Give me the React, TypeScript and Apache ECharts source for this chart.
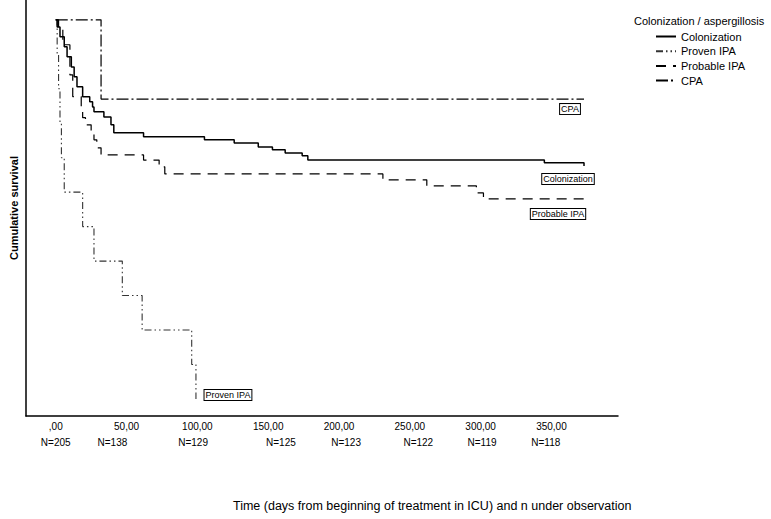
import React, { useEffect, useRef } from "react";
import * as echarts from "echarts";

const seriesNames = ["Colonization", "Proven IPA", "Probable IPA", "CPA"];

const colonizationDays = [0, 1, 3, 6, 8, 11, 13, 15, 19, 24, 26, 27, 34, 39, 41, 62, 105, 126, 143, 153, 162, 174, 178, 345, 373];
const colonizationSurv = [1, 0.982, 0.957, 0.932, 0.907, 0.881, 0.856, 0.831, 0.806, 0.793, 0.78, 0.768, 0.755, 0.735, 0.715, 0.705, 0.697, 0.689, 0.679, 0.672, 0.664, 0.657, 0.646, 0.639, 0.631];

const provenDays = [0, 1, 2, 3, 4, 6, 19, 27, 47, 61, 96, 99];
const provenSurv = [1, 0.913, 0.826, 0.739, 0.652, 0.565, 0.478, 0.391, 0.304, 0.217, 0.13, 0.043];

const probableDays = [0, 2, 5, 10, 12, 18, 19, 21, 25, 27, 29, 32, 62, 73, 77, 231, 262, 297, 302, 373];
const probableSurv = [1, 0.975, 0.937, 0.861, 0.806, 0.78, 0.753, 0.735, 0.717, 0.697, 0.677, 0.659, 0.646, 0.629, 0.611, 0.596, 0.581, 0.563, 0.548, 0.548];

const cpaDays = [0, 32, 373];
const cpaSurv = [1, 0.8, 0.8];

const xTickValues = [0, 50, 100, 150, 200, 250, 300, 350];
const xTickLabels = [",00", "50,00", "100,00", "150,00", "200,00", "250,00", "300,00", "350,00"];

const nDays = [0, 40, 97, 159, 205, 256, 301, 346];
const nLabels = ["N=205", "N=138", "N=129", "N=125", "N=123", "N=122", "N=119", "N=118"];

const FONT = "'Liberation Sans', Arial, sans-serif";

function pairs(d: number[], s: number[]) {
  return d.map((v, i) => [v, s[i]]);
}

export default function App() {
  const ref = useRef<HTMLDivElement>(null);
  useEffect(() => {
    if (!ref.current) return;
    const chart = echarts.init(ref.current, undefined, { renderer: "svg" });
    const boxLabel = (offset: number[]) => ({
      show: true,
      formatter: "{a}",
      distance: 0,
      align: "center",
      verticalAlign: "middle",
      offset,
      fontSize: 9,
      fontFamily: FONT,
      color: "#000",
      borderColor: "#000",
      borderWidth: 1,
      padding: [1, 1, 0, 1],
      backgroundColor: "#fff",
    });
    chart.setOption({
      animation: false,
      backgroundColor: "#fff",
      textStyle: { fontFamily: FONT },
      title: [
        {
          text: "Colonization / aspergillosis",
          left: 634,
          top: 15,
          textStyle: { fontSize: 11, fontWeight: "normal", color: "#000", fontFamily: FONT },
          padding: 0,
        },
        {
          text: "Time (days from beginning of treatment in ICU) and n under observation",
          left: 233,
          top: 499,
          textStyle: { fontSize: 12.5, fontWeight: "normal", color: "#000", fontFamily: FONT },
          padding: 0,
        },
      ],
      legend: {
        orient: "vertical",
        left: 655,
        top: 31,
        itemWidth: 20,
        itemHeight: 10,
        itemGap: 3.7,
        padding: 0,
        itemStyle: { opacity: 0 },
        textStyle: { fontSize: 11, color: "#000", fontFamily: FONT },
        data: seriesNames,
      },
      grid: { left: 21, right: 153, top: 0, bottom: 103 },
      xAxis: [
        {
          type: "value",
          min: -21,
          max: 397,
          axisLine: { show: true, onZero: false, lineStyle: { color: "#000", width: 1.5 } },
          axisTick: { show: false },
          splitLine: { show: false },
          axisLabel: {
            customValues: xTickValues,
            margin: 5,
            fontSize: 10,
            color: "#000",
            fontFamily: FONT,
            formatter: (v: number) => {
              const i = xTickValues.indexOf(v);
              return i >= 0 ? xTickLabels[i] : "";
            },
          },
        },
        {
          type: "value",
          position: "bottom",
          offset: 0,
          min: -21,
          max: 397,
          axisLine: { show: false, onZero: false },
          axisTick: { show: false },
          splitLine: { show: false },
          axisLabel: {
            customValues: nDays,
            margin: 21,
            fontSize: 10,
            color: "#000",
            fontFamily: FONT,
            formatter: (v: number) => {
              const i = nDays.indexOf(v);
              return i >= 0 ? nLabels[i] : "";
            },
          },
        },
      ],
      yAxis: {
        type: "value",
        min: 0,
        max: 1.05,
        name: "Cumulative survival",
        nameLocation: "middle",
        nameRotate: 90,
        nameGap: 7,
        nameTextStyle: { fontSize: 11, fontWeight: "bold", color: "#000", fontFamily: FONT },
        axisLine: { show: true, onZero: false, lineStyle: { color: "#000", width: 1.5 } },
        axisTick: { show: false },
        axisLabel: { show: false },
        splitLine: { show: false },
      },
      series: [
        {
          name: "Colonization",
          type: "line",
          step: "end",
          symbol: "none",
          data: pairs(colonizationDays, colonizationSurv),
          lineStyle: { color: "#000", width: 1.5, type: "solid" },
          itemStyle: { color: "#000" },
          endLabel: boxLabel([-16, 13]),
          z: 4,
        },
        {
          name: "Proven IPA",
          type: "line",
          step: "end",
          symbol: "none",
          data: pairs(provenDays, provenSurv),
          lineStyle: { color: "#333", width: 1.1, type: [7, 3, 1.5, 3, 1.5, 3] },
          itemStyle: { color: "#333" },
          endLabel: boxLabel([32, -4]),
          z: 3,
        },
        {
          name: "Probable IPA",
          type: "line",
          step: "end",
          symbol: "none",
          data: pairs(probableDays, probableSurv),
          lineStyle: { color: "#000", width: 1.2, type: [10, 7] },
          itemStyle: { color: "#000" },
          endLabel: boxLabel([-26, 15]),
          z: 3,
        },
        {
          name: "CPA",
          type: "line",
          step: "end",
          symbol: "none",
          data: pairs(cpaDays, cpaSurv),
          lineStyle: { color: "#000", width: 1.2, type: [12, 3, 2, 3] },
          itemStyle: { color: "#000" },
          endLabel: boxLabel([-14, 10]),
          z: 3,
        },
      ],
    });
    return () => chart.dispose();
  }, []);
  return (
    <div
      ref={ref}
      style={{ position: "absolute", left: 0, top: 0, width: 771, height: 519 }}
    />
  );
}
